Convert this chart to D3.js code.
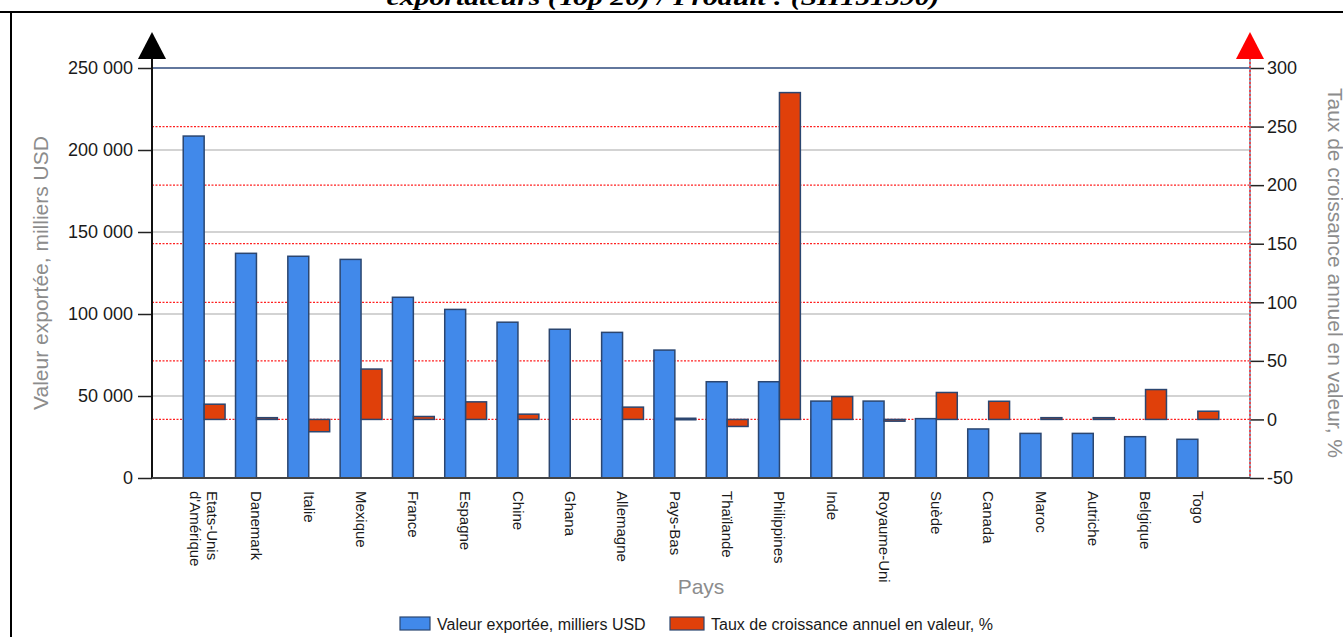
<!DOCTYPE html>
<html><head><meta charset="utf-8">
<script src="https://cdn.jsdelivr.net/npm/d3@7"></script>
<style>
html,body{margin:0;padding:0;background:#fff;}
svg{display:block;font-family:"Liberation Sans",Arial,sans-serif;}
</style></head>
<body><svg id="c" width="1343" height="637"></svg>
<script>
const categories = ["Etats-Unis\nd'Amérique","Danemark","Italie","Mexique","France","Espagne","Chine","Ghana","Allemagne","Pays-Bas","Thaïlande","Philippines","Inde","Royaume-Uni","Suède","Canada","Maroc","Autriche","Belgique","Togo"];
const exportValues = [208500,137000,135200,133300,110200,102800,95000,90700,88800,78000,58700,58700,46900,46900,36200,29900,27200,27200,25200,23600];
const growthValues = [13,1.5,-10.5,43,2.5,15,4.5,null,10.5,1,-6,279,19.5,-1.5,23,15.5,1.5,1.5,25.5,7];
const leftTicks = [0,50000,100000,150000,200000,250000];
const leftTickLabels = ["0","50 000","100 000","150 000","200 000","250 000"];
const rightTicks = [-50,0,50,100,150,200,250,300];
const rightTickLabels = ["-50","0","50","100","150","200","250","300"];
const seriesNames = ["Valeur exportée, milliers USD","Taux de croissance annuel en valeur, %"];
const titleText = "exportateurs (Top 20) / Produit : (SH151590)";
const xTitle = "Pays";

const svg = d3.select("#c");
const L = 152, R = 1250, T = 68, B = 478;
const blue = "#4189EA", red = "#E0400A", edge = "#2b4670";

const x = d3.scaleBand().domain(categories).range([178, 1224]).paddingInner(0.2).paddingOuter(0.1);
const xs = d3.scaleBand().domain(["v","g"]).range([0, x.bandwidth()]);
const yL = d3.scaleLinear().domain([0, 250000]).range([B, T]);
const yR = d3.scaleLinear().domain([-50, 300]).range([B, T]);

// frame
svg.append("line").attr("x1",0).attr("x2",1343).attr("y1",12).attr("y2",12).attr("stroke","#000").attr("stroke-width",2);
svg.append("line").attr("x1",11).attr("x2",11).attr("y1",12).attr("y2",637).attr("stroke","#000").attr("stroke-width",2);
// title (cut off)
svg.append("text").attr("x",663).attr("y",5).attr("text-anchor","middle")
  .attr("font-family","'Liberation Serif','DejaVu Serif',serif").attr("font-weight","bold").attr("font-style","italic")
  .attr("font-size",24).attr("textLength",553).attr("lengthAdjust","spacingAndGlyphs").text(titleText);

// grid
const g = svg.append("g");
g.selectAll(".gl").data(leftTicks.filter(d=>d>0 && d<250000)).join("line")
  .attr("x1",L).attr("x2",R).attr("y1",d=>yL(d)).attr("y2",d=>yL(d)).attr("stroke","#c4c4c4").attr("stroke-width",1.5);
g.selectAll(".gr").data(rightTicks.filter(d=>d>-50 && d<300)).join("line")
  .attr("x1",L).attr("x2",R).attr("y1",d=>yR(d)).attr("y2",d=>yR(d)).attr("stroke","#ff2020").attr("stroke-width",1.3).attr("stroke-dasharray","2,1.5");
g.append("line").attr("x1",L).attr("x2",R).attr("y1",T).attr("y2",T).attr("stroke","#2e4a7d").attr("stroke-width",1.5);

// bars
const bars = svg.append("g");
bars.selectAll(".bv").data(exportValues).join("rect")
  .attr("x",(d,i)=>x(categories[i])+xs("v")).attr("width",xs.bandwidth())
  .attr("y",d=>yL(d)).attr("height",d=>yL(0)-yL(d))
  .attr("fill",blue).attr("stroke",edge).attr("stroke-width",1.5);
bars.selectAll(".bg").data(growthValues.map((v,i)=>({v,i})).filter(d=>d.v!==null)).join("rect")
  .attr("x",d=>x(categories[d.i])+xs("g")).attr("width",xs.bandwidth())
  .attr("y",d=>yR(Math.max(0,d.v))).attr("height",d=>Math.max(1.5,Math.abs(yR(d.v)-yR(0))))
  .attr("fill",red).attr("stroke",edge).attr("stroke-width",1.5);

// axes
const axL = svg.append("g").attr("transform",`translate(${L},0)`)
  .call(d3.axisLeft(yL).tickValues(leftTicks).tickSize(14).tickPadding(5).tickFormat((d,i)=>leftTickLabels[i]));
const axR = svg.append("g").attr("transform",`translate(${R},0)`)
  .call(d3.axisRight(yR).tickValues(rightTicks).tickSize(14).tickPadding(3).tickFormat((d,i)=>rightTickLabels[i]));
[axL,axR].forEach(a=>{
  a.select(".domain").remove();
  a.selectAll(".tick line").attr("stroke","#222").attr("stroke-width",1.5);
  a.selectAll(".tick text").attr("font-size",18).attr("fill","#1a1a1a").attr("font-family","'Liberation Sans',Arial,sans-serif");
});
svg.append("line").attr("x1",L).attr("x2",L).attr("y1",58).attr("y2",B).attr("stroke","#111").attr("stroke-width",2);
svg.append("line").attr("x1",R).attr("x2",R).attr("y1",58).attr("y2",B).attr("stroke","#6f80a0").attr("stroke-width",1.5);
svg.append("line").attr("x1",R).attr("x2",R).attr("y1",58).attr("y2",B).attr("stroke","#ff3030").attr("stroke-width",1.5).attr("stroke-dasharray","2,2");
svg.append("line").attr("x1",L).attr("x2",R).attr("y1",B).attr("y2",B).attr("stroke","#444").attr("stroke-width",2);
// arrows
svg.append("path").attr("d",`M${L-14},59 L${L},32 L${L+14},59 Z`).attr("fill","#000");
svg.append("path").attr("d",`M${R-14},59 L${R},32 L${R+14},59 Z`).attr("fill","#ff0000");

// x labels
const xl = svg.append("g");
categories.forEach(c=>{
  const cx = x(c) + x.bandwidth()/2;
  const t = xl.append("text").attr("transform",`translate(${cx},491) rotate(90)`)
    .attr("font-size",15).attr("fill","#1a1a1a");
  const lines = c.split("\n");
  if(lines.length===1){ t.attr("dy","0.35em").text(c); }
  else {
    lines.forEach((s,k)=>t.append("tspan").attr("x",0).attr("dy",k===0?"-0.22em":"1.13em").text(s));
  }
});

// axis titles
svg.append("text").attr("transform",`translate(48,273) rotate(-90)`).attr("text-anchor","middle")
  .attr("font-size",21).attr("fill","#8c8c8c").text(seriesNames[0]);
svg.append("text").attr("transform",`translate(1328,273) rotate(90)`).attr("text-anchor","middle")
  .attr("font-size",21).attr("fill","#8c8c8c").text(seriesNames[1]);
svg.append("text").attr("x",701).attr("y",594).attr("text-anchor","middle")
  .attr("font-size",21).attr("fill","#8c8c8c").text(xTitle);

// legend
const lg = svg.append("g");
lg.append("rect").attr("x",400).attr("y",617).attr("width",30).attr("height",13).attr("fill",blue).attr("stroke",edge).attr("stroke-width",1.2);
lg.append("text").attr("x",437).attr("y",629.5).attr("font-size",16).attr("fill","#1a1a1a").text(seriesNames[0]);
lg.append("rect").attr("x",670).attr("y",617).attr("width",34).attr("height",13).attr("fill",red).attr("stroke",edge).attr("stroke-width",1.2);
lg.append("text").attr("x",711).attr("y",629.5).attr("font-size",16).attr("fill","#1a1a1a").text(seriesNames[1]);
</script></body></html>
